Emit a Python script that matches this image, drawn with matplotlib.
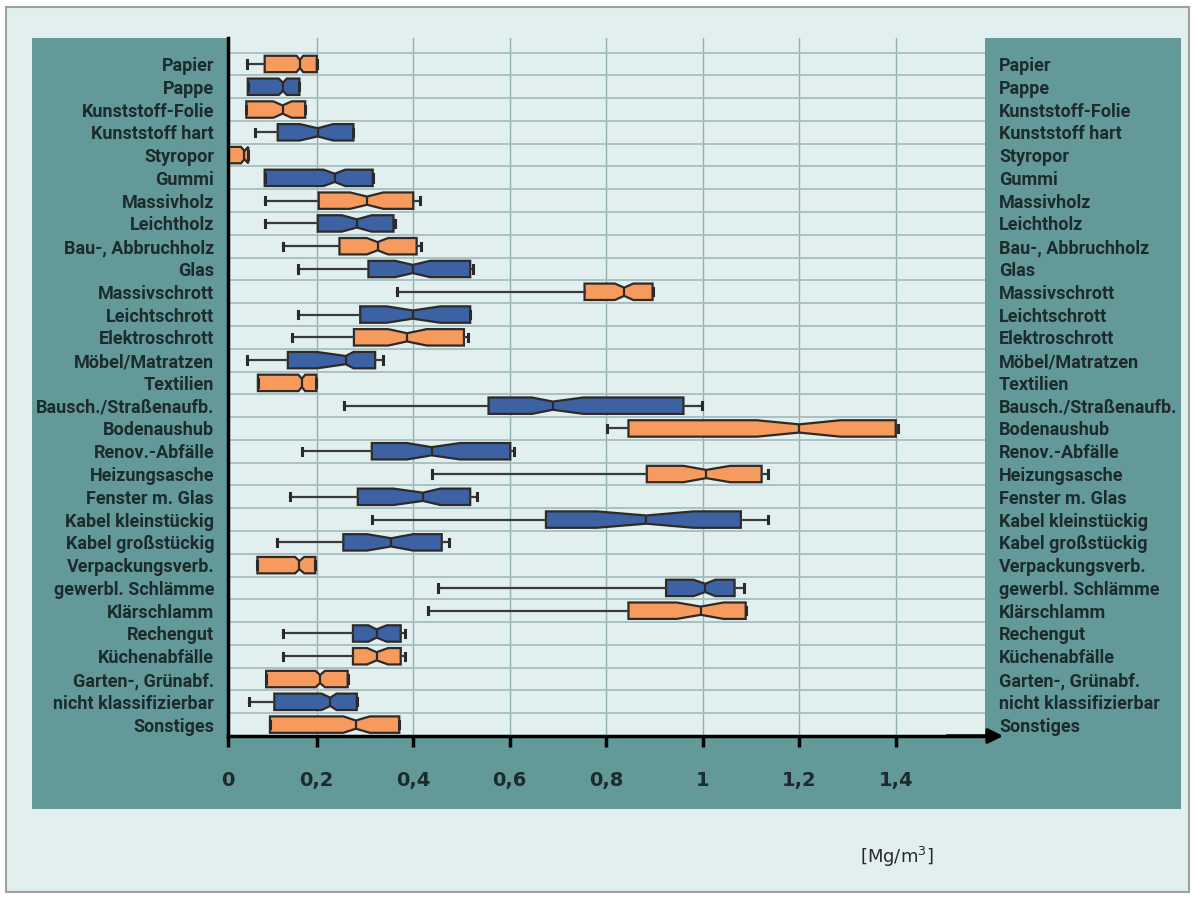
import matplotlib.pyplot as plt
from matplotlib.patches import Rectangle

# Schüttdichten je Abfallfraktion [Mg/m3]
categories = [
    "Papier", "Pappe", "Kunststoff-Folie", "Kunststoff hart", "Styropor",
    "Gummi", "Massivholz", "Leichtholz", "Bau-, Abbruchholz", "Glas",
    "Massivschrott", "Leichtschrott", "Elektroschrott", "Möbel/Matratzen",
    "Textilien", "Bausch./Straßenaufb.", "Bodenaushub", "Renov.-Abfälle",
    "Heizungsasche", "Fenster m. Glas", "Kabel kleinstückig",
    "Kabel großstückig", "Verpackungsverb.", "gewerbl. Schlämme",
    "Klärschlamm", "Rechengut", "Küchenabfälle", "Garten-, Grünabf.",
    "nicht klassifizierbar", "Sonstiges",
]
group = ["o", "b", "o", "b", "o", "b", "o", "b", "o", "b",
         "o", "b", "o", "b", "o", "b", "o", "b", "o", "b",
         "b", "b", "o", "b", "o", "b", "o", "o", "b", "o"]

whis_lo = [0.056, None, None, 0.071, None, None, 0.093, 0.093, 0.130, 0.162,
           0.366, 0.162, 0.149, 0.056, None, 0.257, 0.801, 0.170, 0.438, 0.145,
           0.315, 0.117, None, 0.452, 0.430, 0.129, 0.129, None, 0.060, None]
q1 = [0.092, 0.057, 0.054, 0.119, 0.0, 0.092, 0.204, 0.202, 0.247, 0.307,
      0.755, 0.290, 0.277, 0.140, 0.078, 0.556, 0.846, 0.314, 0.884, 0.285,
      0.675, 0.255, 0.077, 0.924, 0.846, 0.275, 0.275, 0.095, 0.112, 0.103]
ci_lo = [0.158, 0.121, 0.110, 0.165, 0.043, 0.214, 0.269, 0.252, 0.304, 0.362,
         0.818, 0.345, 0.348, 0.200, 0.162, 0.646, 1.112, 0.387, 0.960, 0.359,
         0.780, 0.304, 0.155, 0.981, 0.946, 0.307, 0.304, 0.197, 0.210, 0.255]
median = [0.165, 0.130, 0.129, 0.202, 0.050, 0.237, 0.304, 0.283, 0.326, 0.399,
          0.837, 0.399, 0.387, 0.260, 0.169, 0.689, 1.200, 0.438, 1.007, 0.420,
          0.883, 0.354, 0.164, 1.005, 0.996, 0.324, 0.324, 0.207, 0.228, 0.281]
ci_hi = [0.172, 0.138, 0.148, 0.234, 0.058, 0.259, 0.338, 0.314, 0.348, 0.435,
         0.856, 0.456, 0.428, 0.276, 0.176, 0.753, 1.285, 0.497, 1.057, 0.456,
         0.981, 0.400, 0.174, 1.026, 1.043, 0.345, 0.348, 0.217, 0.241, 0.310]
q3 = [0.200, 0.164, 0.176, 0.276, 0.058, 0.316, 0.400, 0.359, 0.407, 0.518,
      0.896, 0.518, 0.505, 0.321, 0.199, 0.960, 1.400, 0.601, 1.122, 0.518,
      1.079, 0.459, 0.197, 1.066, 1.089, 0.374, 0.374, 0.264, 0.283, 0.371]
whis_hi = [None, None, None, None, None, None, 0.414, 0.362, 0.416, 0.523,
           None, None, 0.514, 0.337, None, 0.998, 1.405, 0.608, 1.136, 0.532,
           1.136, 0.475, None, 1.086, None, 0.383, 0.383, None, None, None]

tick_values = [0.2, 0.4, 0.6, 0.8, 1.0, 1.2, 1.4]
tick_labels = ["0,2", "0,4", "0,6", "0,8", "1", "1,2", "1,4"]

W, H = 1195, 897
X_MIN, X_MAX = 0.016, 1.585
TEAL = "#64999a"
PALE = "#e2efef"
TEXT = "#1c2b2b"
COLORS = {"o": "#f79a5e", "b": "#3d62a4"}
LABEL_FONT = ["Liberation Sans Narrow", "Roboto", "DejaVu Sans"]

fig = plt.figure(figsize=(W / 100, H / 100), dpi=100)
fig.patch.set_facecolor("white")

# outer frame and teal panel
fig.add_artist(Rectangle((6 / W, 1 - 892 / H), 1183 / W, 885 / H,
                         transform=fig.transFigure, facecolor=PALE,
                         edgecolor="#a0a0a0", lw=1.5, zorder=-3))
fig.add_artist(Rectangle((32 / W, 1 - 809 / H), 1149 / W, 771 / H,
                         transform=fig.transFigure, facecolor=TEAL,
                         edgecolor="none", zorder=-2))

ax = fig.add_axes([228 / W, 1 - 736 / H, 757 / W, 698 / H])
ax.set_facecolor(PALE)

stats = []
for i in range(len(categories)):
    stats.append({
        "whislo": whis_lo[i] if whis_lo[i] is not None else q1[i],
        "q1": q1[i],
        "cilo": ci_lo[i],
        "med": median[i],
        "cihi": ci_hi[i],
        "q3": q3[i],
        "whishi": whis_hi[i] if whis_hi[i] is not None else q3[i],
        "fliers": [],
    })

positions = list(range(len(categories)))
bp = ax.bxp(stats, positions=positions, vert=False, widths=0.72,
            shownotches=True, patch_artist=True, showfliers=False,
            capwidths=0.32,
            boxprops=dict(edgecolor="#2e2a28", linewidth=1.6),
            medianprops=dict(color="#2e2a28", linewidth=1.6),
            whiskerprops=dict(color="#3a3a3a", linewidth=1.6),
            capprops=dict(color="#2a2a2a", linewidth=2.2))
for box, g in zip(bp["boxes"], group):
    box.set_facecolor(COLORS[g])

n = len(categories)
ax.set_ylim(n - 0.5, -1.14)
ax.set_xlim(X_MIN, X_MAX)

# row separators and vertical grid
ax.set_yticks([k + 0.5 for k in range(-1, n - 1)], minor=True)
ax.grid(axis="y", which="minor", color="#a7bebe", lw=1.3)
ax.set_xticks([X_MIN] + tick_values, ["0"] + tick_labels)
ax.grid(axis="x", which="major", color="#93b0b0", lw=1.0)
ax.set_axisbelow(True)

ax.set_yticks(positions, categories)
ax.tick_params(axis="y", which="both", length=0, pad=10,
               labelleft=True, labelright=True, labelsize=13,
               labelcolor=TEXT)
for lab in ax.get_yticklabels():
    lab.set_family(LABEL_FONT)
    lab.set_fontweight("bold")
ax.tick_params(axis="x", which="major", direction="out", length=8,
               width=2.5, color="black", pad=17, labelsize=14,
               labelcolor=TEXT)
for lab in ax.get_xticklabels():
    lab.set_fontweight("bold")

for side in ["top", "right"]:
    ax.spines[side].set_visible(False)
ax.spines["left"].set_linewidth(2.5)
ax.spines["bottom"].set_linewidth(2.5)

# axis arrow into the teal panel
ax.annotate("", xy=(1.024, 0), xytext=(0.95, 0), xycoords="axes fraction",
            arrowprops=dict(arrowstyle="-|>", color="black", lw=2.5,
                            mutation_scale=22, shrinkA=0, shrinkB=0),
            annotation_clip=False)

fig.text(897 / W, 1 - 857 / H, "[Mg/m$^3$]", ha="center", va="center",
         fontsize=13, color="#2a2a2a")

fig.savefig("out.png", dpi=100)
